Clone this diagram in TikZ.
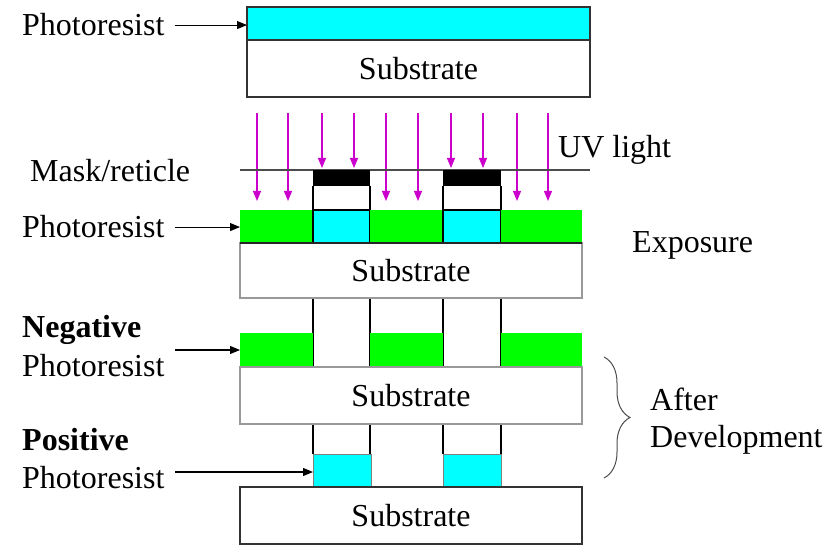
\documentclass[tikz,border=0pt]{standalone}
\usepackage{fontspec}
\setmainfont{Liberation Serif}
\usetikzlibrary{arrows.meta,decorations.pathreplacing,backgrounds}
\definecolor{uv}{RGB}{204,0,204}
\definecolor{cy}{RGB}{0,255,255}
\definecolor{gr}{RGB}{0,255,0}
\begin{document}
\begin{tikzpicture}[x=1pt,y=-1pt,
  every node/.style={font=\fontsize{32}{38}\selectfont},
  lay/.style={rectangle, inner sep=0pt, outer sep=0pt, line width=1.2pt},
  lab/.style={anchor=base west, inner sep=0pt},
  arr/.style={-{Triangle[length=10pt,width=8pt]}, line width=1.1pt, black},
  uvarr/.style={-{Triangle[length=10pt,width=8pt]}, line width=1.1pt, uv},
  vline/.style={line width=1.2pt, black}
]
\useasboundingbox (0,0) rectangle (835,553);

% ---- top stack
\node[lay, draw=black!80, fill=cy, minimum width=343, minimum height=33] (pr1) at (418.5,23.5) {};
\node[lay, draw=black!80, fill=white, minimum width=343, minimum height=57] (sub1) at (418.5,68.5) {Substrate};
\node[lab] (l1) at (22,36) {Photoresist};
\draw[arr] ([xshift=10pt]l1.east) -- (l1.east -| pr1.west);

% ---- UV light
\foreach \x/\e [count=\i] in {257/201, 288/201, 322/168, 354/168, 386/201, 418/201, 451/168, 483/168, 517/201, 548/201} {
  \coordinate (u\i) at (\x,113);
  \coordinate (v\i) at (\x,\e);
  \draw[uvarr] (u\i) -- (v\i);
}
\node[lab] (uvl) at (558,158) {UV light};

% ---- mask
\coordinate (ml) at (240,170);
\coordinate (mr) at (590,170);
\draw[black!70, line width=1.2pt] (ml) -- (mr);
\node[lay, fill=black, minimum width=57, minimum height=16] (m1) at (341.5,178) {};
\node[lay, fill=black, minimum width=58, minimum height=16] (m2) at (472,178) {};
\node[lab] (mask) at (30,182) {Mask/reticle};

% ---- exposure
\node[lay, fill=gr, minimum width=73, minimum height=33] (g1) at (276.5,226.5) {};
\node[lay, draw=black, fill=cy, minimum width=57, minimum height=33] (c1) at (341.5,226.5) {};
\node[lay, fill=gr, minimum width=73, minimum height=33] (g2) at (406.5,226.5) {};
\node[lay, draw=black, fill=cy, minimum width=58, minimum height=33] (c2) at (472,226.5) {};
\node[lay, fill=gr, minimum width=81, minimum height=33] (g3) at (541.5,226.5) {};
\node[lay, draw=black!40, fill=white, minimum width=342, minimum height=55] (sub2) at (411,270.5) {Substrate};
\draw[line width=1.2pt, black!85] (g1.south west) -- (g3.south east);
\node[lab] (l2) at (22,238) {Photoresist};
\draw[arr] ([xshift=10pt]l2.east) -- (l2.east -| g1.west);
\node[lab] (expo) at (632,253) {Exposure};

% ---- negative
\node[lay, fill=gr, minimum width=73, minimum height=34] (n1) at (276.5,350) {};
\node[lay, fill=gr, minimum width=73, minimum height=34] (n2) at (406.5,350) {};
\node[lay, fill=gr, minimum width=81, minimum height=34] (n3) at (541.5,350) {};
\node[lay, draw=black!40, fill=white, minimum width=342, minimum height=57] (sub3) at (411,395.5) {Substrate};
\node[lab, font=\fontsize{32}{38}\selectfont\bfseries] (neg) at (22,337) {Negative};
\node[lab] (l3) at (22,376) {Photoresist};
\coordinate (a3) at (175,350);
\draw[arr] (a3) -- (a3 -| n1.west);

% ---- positive
\node[lay, draw=black!50, line width=0.8pt, fill=cy, minimum width=58, minimum height=33] (p1) at (342,470.5) {};
\node[lay, draw=black!50, line width=0.8pt, fill=cy, minimum width=58, minimum height=33] (p2) at (472,470.5) {};
\node[lay, draw=black!80, fill=white, minimum width=342, minimum height=57] (sub4) at (411,515.5) {Substrate};
\node[lab, font=\fontsize{32}{38}\selectfont\bfseries] (pos) at (22,450) {Positive};
\node[lab] (l4) at (22,488) {Photoresist};
\coordinate (a4) at (175,472);
\draw[arr] (a4) -- (a4 -| p1.west);

% ---- vertical mask-edge lines (behind)
\begin{scope}[on background layer]
  \draw[vline] (m1.south west) -- (m1.south west |- p1.north);
  \draw[vline] (m1.south east) -- (m1.south east |- p1.north);
  \draw[vline] (m2.south west) -- (m2.south west |- p2.north);
  \draw[vline] (m2.south east) -- (m2.south east |- p2.north);
\end{scope}

% ---- after development brace
\coordinate (bt) at (604,357);
\coordinate (bb) at (604,478);
\draw[decorate, decoration={brace, amplitude=26pt}, black!70, line width=1pt] (bt) -- (bb);
\node[lab] (after) at (650,410) {After};
\node[lab] (dev) at (650,447) {Development};
\end{tikzpicture}
\end{document}
